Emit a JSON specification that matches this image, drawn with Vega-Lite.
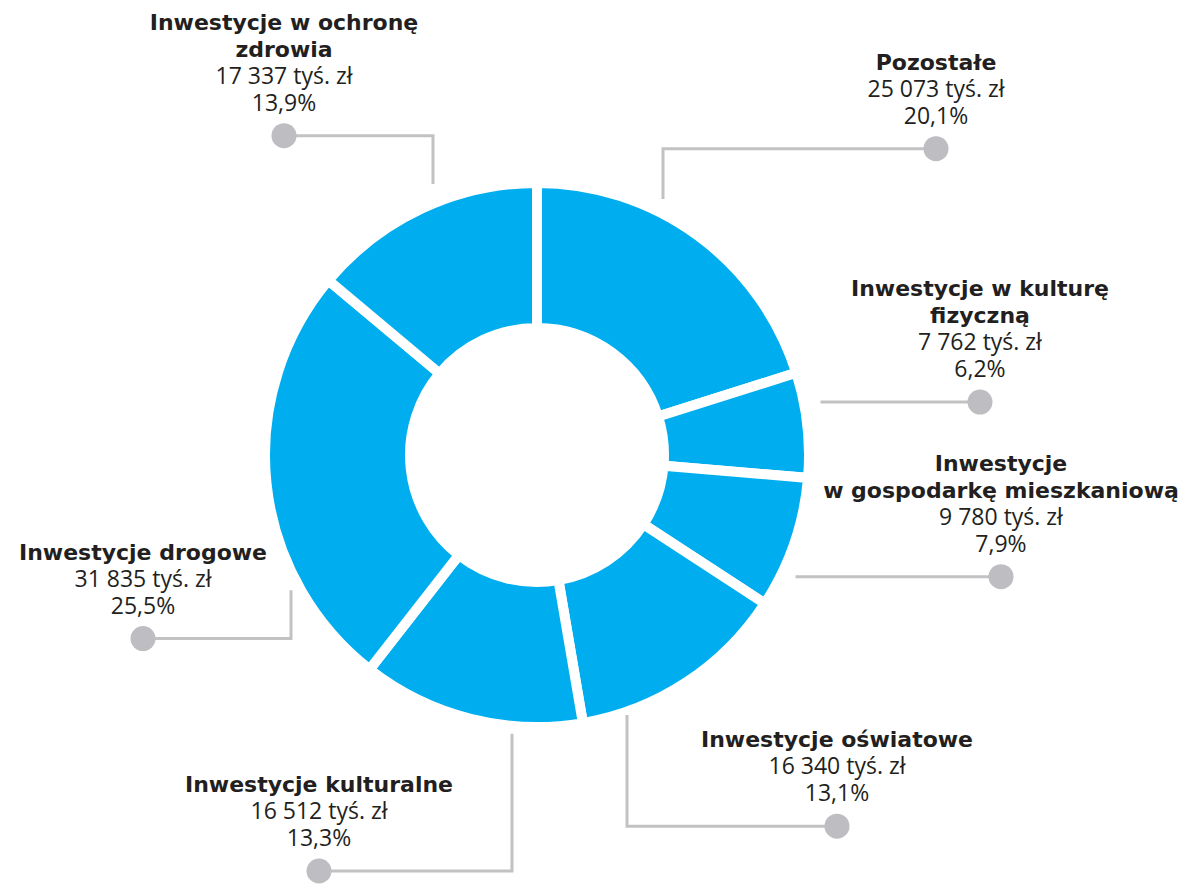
{
  "$schema": "https://vega.github.io/schema/vega-lite/v6.json",
  "autosize": {"type": "fit", "contains": "padding"},
  "width": 1186,
  "height": 884,
  "padding": 0,
  "background": "#ffffff",
  "config": {"view": {"stroke": null}},
  "datasets": {
    "cats": [
      {"name": "Pozostałe", "value": 25073, "ord": 1, "t1": "", "t2": "Pozostałe", "amount": "25 073 tyś. zł", "pct": "20,1%", "px": 936, "py": 149},
      {"name": "Inwestycje w kulturę fizyczną", "value": 7762, "ord": 2, "t1": "Inwestycje w kulturę", "t2": "fizyczną", "amount": "7 762 tyś. zł", "pct": "6,2%", "px": 980, "py": 403},
      {"name": "Inwestycje w gospodarkę mieszkaniową", "value": 9780, "ord": 3, "t1": "Inwestycje", "t2": "w gospodarkę mieszkaniową", "amount": "9 780 tyś. zł", "pct": "7,9%", "px": 1001, "py": 578},
      {"name": "Inwestycje oświatowe", "value": 16340, "ord": 4, "t1": "", "t2": "Inwestycje oświatowe", "amount": "16 340 tyś. zł", "pct": "13,1%", "px": 837, "py": 828},
      {"name": "Inwestycje kulturalne", "value": 16512, "ord": 5, "t1": "", "t2": "Inwestycje kulturalne", "amount": "16 512 tyś. zł", "pct": "13,3%", "px": 319, "py": 873},
      {"name": "Inwestycje drogowe", "value": 31835, "ord": 6, "t1": "", "t2": "Inwestycje drogowe", "amount": "31 835 tyś. zł", "pct": "25,5%", "px": 143, "py": 640},
      {"name": "Inwestycje w ochronę zdrowia", "value": 17337, "ord": 7, "t1": "Inwestycje w ochronę", "t2": "zdrowia", "amount": "17 337 tyś. zł", "pct": "13,9%", "px": 284, "py": 136}
    ],
    "leaders": [
      {"name": "Pozostałe", "seq": 1, "x": 936, "y": 149},
      {"name": "Pozostałe", "seq": 2, "x": 663, "y": 149},
      {"name": "Pozostałe", "seq": 3, "x": 663, "y": 198},
      {"name": "Kultura fizyczna", "seq": 1, "x": 980, "y": 403},
      {"name": "Kultura fizyczna", "seq": 2, "x": 822, "y": 403},
      {"name": "Gospodarka", "seq": 1, "x": 1001, "y": 578},
      {"name": "Gospodarka", "seq": 2, "x": 797, "y": 578},
      {"name": "Oświatowe", "seq": 1, "x": 837, "y": 828},
      {"name": "Oświatowe", "seq": 2, "x": 627, "y": 828},
      {"name": "Oświatowe", "seq": 3, "x": 627, "y": 718},
      {"name": "Kulturalne", "seq": 1, "x": 319, "y": 873},
      {"name": "Kulturalne", "seq": 2, "x": 512, "y": 873},
      {"name": "Kulturalne", "seq": 3, "x": 512, "y": 737},
      {"name": "Drogowe", "seq": 1, "x": 143, "y": 640},
      {"name": "Drogowe", "seq": 2, "x": 291, "y": 640},
      {"name": "Drogowe", "seq": 3, "x": 291, "y": 593},
      {"name": "Ochrona", "seq": 1, "x": 284, "y": 136},
      {"name": "Ochrona", "seq": 2, "x": 433, "y": 136},
      {"name": "Ochrona", "seq": 3, "x": 433, "y": 183}
    ]
  },
  "resolve": {"scale": {"x": "shared", "y": "shared"}},
  "layer": [
    {
      "data": {"name": "cats"},
      "mark": {"type": "arc", "outerRadius": 272, "innerRadius": 127, "fill": "#00AEEF", "stroke": "#ffffff", "strokeWidth": 10},
      "encoding": {
        "theta": {"field": "value", "type": "quantitative", "stack": true},
        "order": {"field": "ord", "type": "quantitative"},
        "x": {"datum": 537, "type": "quantitative", "scale": {"domain": [0, 1186], "nice": false, "zero": false}, "axis": null},
        "y": {"datum": 456, "type": "quantitative", "scale": {"domain": [884, 0], "nice": false, "zero": false}, "axis": null}
      }
    },
    {
      "data": {"name": "leaders"},
      "mark": {"type": "line", "color": "#C2C2C4", "strokeWidth": 3, "strokeJoin": "miter", "strokeCap": "square"},
      "encoding": {
        "x": {"field": "x", "type": "quantitative"},
        "y": {"field": "y", "type": "quantitative"},
        "detail": {"field": "name", "type": "nominal"},
        "order": {"field": "seq", "type": "quantitative"}
      }
    },
    {
      "data": {"name": "cats"},
      "mark": {"type": "point", "filled": true, "color": "#BDBDC2", "opacity": 1, "size": 625, "shape": "circle"},
      "encoding": {
        "x": {"field": "px", "type": "quantitative"},
        "y": {"field": "py", "type": "quantitative"}
      }
    },
    {
      "data": {"name": "cats"},
      "mark": {"type": "text", "font": "DejaVu Sans", "fontWeight": "bold", "fontSize": 22, "color": "#231F20", "align": "center", "baseline": "alphabetic", "dy": -106},
      "encoding": {
        "x": {"field": "px", "type": "quantitative"},
        "y": {"field": "py", "type": "quantitative"},
        "text": {"field": "t1"}
      }
    },
    {
      "data": {"name": "cats"},
      "mark": {"type": "text", "font": "DejaVu Sans", "fontWeight": "bold", "fontSize": 22, "color": "#231F20", "align": "center", "baseline": "alphabetic", "dy": -79},
      "encoding": {
        "x": {"field": "px", "type": "quantitative"},
        "y": {"field": "py", "type": "quantitative"},
        "text": {"field": "t2"}
      }
    },
    {
      "data": {"name": "cats"},
      "mark": {"type": "text", "font": "Open Sans", "fontWeight": 400, "fontSize": 23, "color": "#231F20", "align": "center", "baseline": "alphabetic", "dy": -52},
      "encoding": {
        "x": {"field": "px", "type": "quantitative"},
        "y": {"field": "py", "type": "quantitative"},
        "text": {"field": "amount"}
      }
    },
    {
      "data": {"name": "cats"},
      "mark": {"type": "text", "font": "Open Sans", "fontWeight": 400, "fontSize": 23, "color": "#231F20", "align": "center", "baseline": "alphabetic", "dy": -25},
      "encoding": {
        "x": {"field": "px", "type": "quantitative"},
        "y": {"field": "py", "type": "quantitative"},
        "text": {"field": "pct"}
      }
    }
  ]
}
